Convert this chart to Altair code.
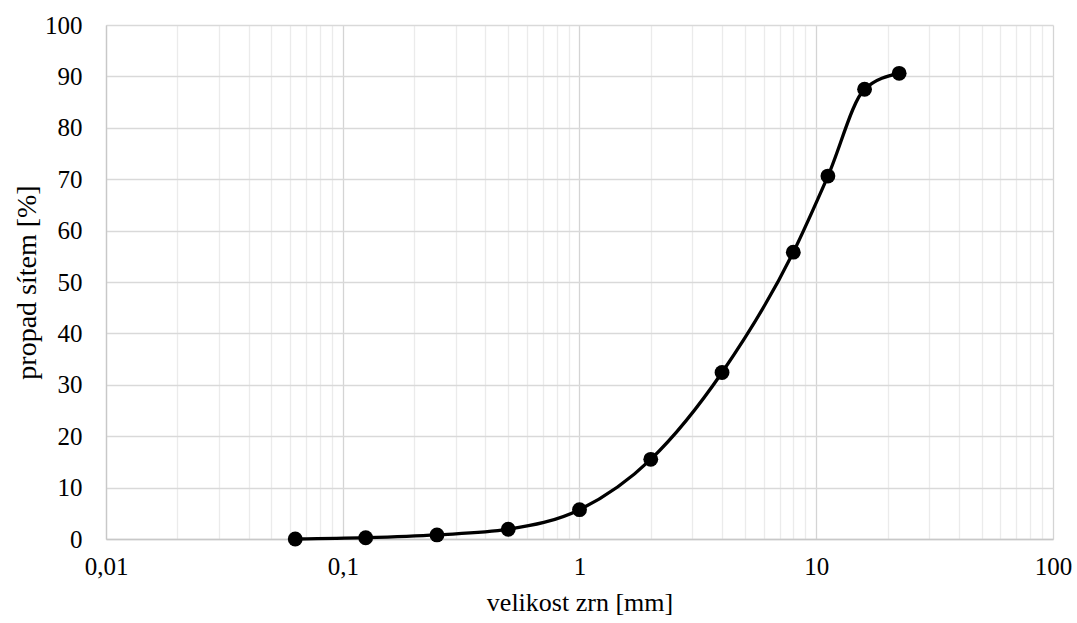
import altair as alt
import pandas as pd

# Sieve sizes [mm] and cumulative passing [%]
sieve_mm = [0.063, 0.125, 0.25, 0.5, 1, 2, 4, 8, 11.2, 16, 22.4]
passing = [0.0, 0.25, 0.8, 1.9, 5.7, 15.5, 32.4, 55.8, 70.6, 87.5, 90.6]

# Log-axis tick positions: 1..9 of every decade from 0.01 to 100
decades = [0.01, 0.1, 1, 10, 100]
tick_values = [round(m * d, 6) for d in decades[:-1] for m in range(1, 10)] + [100]

df = pd.DataFrame({"size": sieve_mm, "pass": passing})

font = "Liberation Serif"
is_decade = "abs(log(datum.value)/LN10 - round(log(datum.value)/LN10)) < 1e-6"

x = alt.X(
    "size:Q",
    scale=alt.Scale(type="log", domain=[0.01, 100], nice=False),
    axis=alt.Axis(
        title="velikost zrn [mm]",
        values=tick_values,
        labelExpr=f"{is_decade} ? replace(format(datum.value, ''), '.', ',') : ''",
        gridColor={"condition": {"test": is_decade, "value": "#d4d4d4"}, "value": "#ebebeb"},
        gridWidth=1.3,
        ticks=False,
        domainColor="#c8c8c8",
        domainWidth=1.3,
        labelPadding=15,
        titlePadding=10,
        titleFontSize=26,
        labelFlush=False,
        labelOverlap=False,
    ),
)
y = alt.Y(
    "pass:Q",
    scale=alt.Scale(domain=[0, 100], nice=False),
    axis=alt.Axis(
        title="propad sítem [%]",
        values=list(range(0, 101, 10)),
        gridColor="#d9d9d9",
        gridWidth=1.3,
        ticks=False,
        domainColor="#c8c8c8",
        domainWidth=1.3,
        labelPadding=24,
        titlePadding=3,
        titleFontSize=28,
    ),
)

base = alt.Chart(df)
line = base.mark_line(color="black", strokeWidth=3.3, interpolate="monotone").encode(x=x, y=y)
points = base.mark_point(filled=True, color="black", size=220, opacity=1).encode(x=x, y=y)

chart = (
    alt.layer(line, points)
    .properties(
        width=947,
        height=514,
        autosize=alt.AutoSizeParams(type="none"),
        padding={"left": 106, "top": 25, "right": 24, "bottom": 84},
        background="white",
    )
    .configure_view(stroke=None)
    .configure_axis(
        labelFont=font,
        titleFont=font,
        labelFontSize=25,
        labelColor="black",
        titleColor="black",
        titleFontWeight="normal",
    )
)

chart.save("out.html", embed_options={"renderer": "svg", "actions": False})
